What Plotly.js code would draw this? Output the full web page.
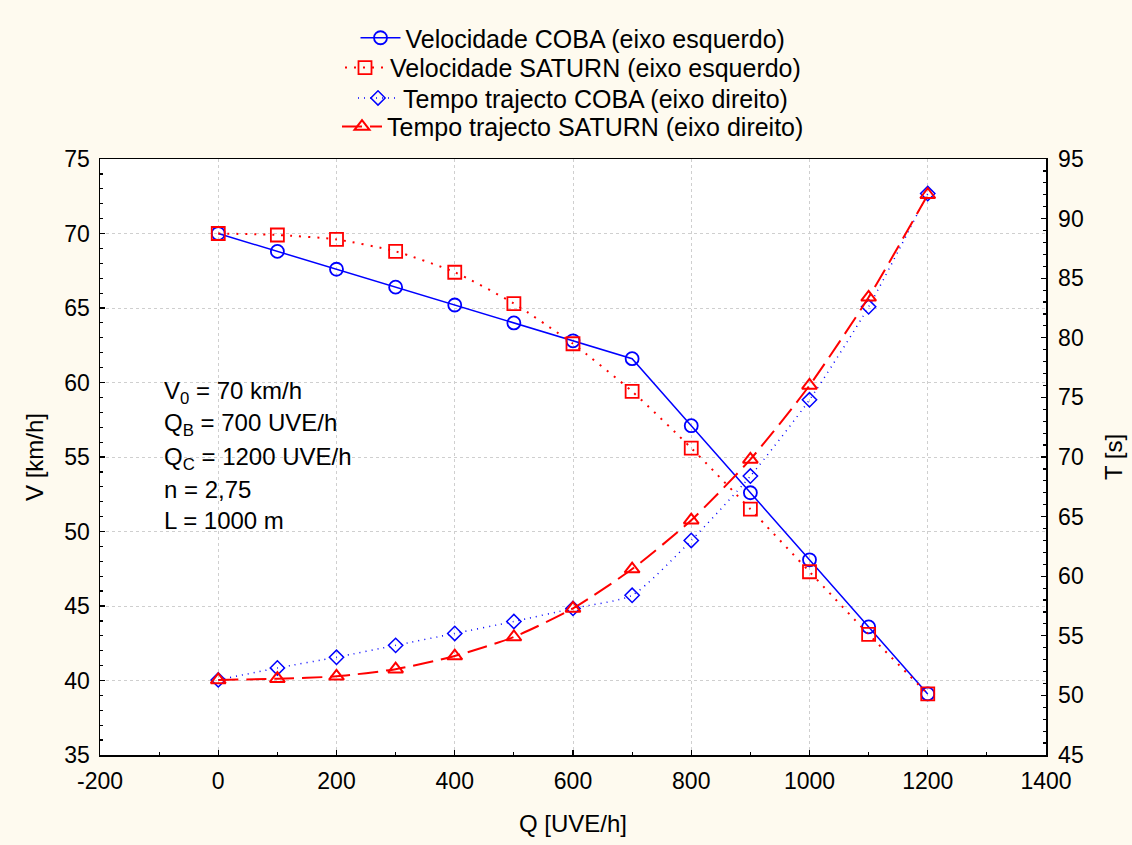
<!DOCTYPE html>
<html>
<head>
<meta charset="utf-8">
<script src="https://cdn.plot.ly/plotly-3.0.1.min.js"></script>
<style>html,body{margin:0;padding:0;background:#FEFAEF;}#chart{width:1132px;height:845px;}</style>
</head>
<body>
<div id="chart"></div>
<script>
const Q = [0, 100, 200, 300, 400, 500, 600, 700, 800, 900, 1000, 1100, 1200];
const velCOBA = [70.0, 68.8, 67.6, 66.4, 65.2, 64.0, 62.8, 61.6, 57.1, 52.6, 48.1, 43.6, 39.1];
const velSATURN = [70.0, 69.9, 69.6, 68.8, 67.4, 65.3, 62.6, 59.4, 55.6, 51.5, 47.3, 43.1, 39.1];
const tempoCOBA = [51.3, 52.3, 53.2, 54.2, 55.2, 56.2, 57.3, 58.4, 63.0, 68.4, 74.8, 82.6, 92.1];
const tempoSATURN = [51.3, 51.4, 51.6, 52.2, 53.3, 54.9, 57.3, 60.6, 64.7, 69.8, 76.0, 83.4, 92.0];
const names = [
  'Velocidade COBA (eixo esquerdo)',
  'Velocidade SATURN (eixo esquerdo)',
  'Tempo trajecto COBA (eixo direito)',
  'Tempo trajecto SATURN (eixo direito)'
];
const xTickVals = [-200, 0, 200, 400, 600, 800, 1000, 1200, 1400];
const xTickText = ['-200', '0', '200', '400', '600', '800', '1000', '1200', '1400'];
const infoLines = ['V<sub>0</sub> = 70 km/h', 'Q<sub>B</sub> = 700 UVE/h', 'Q<sub>C</sub> = 1200 UVE/h', 'n = 2,75', 'L = 1000 m'];

const FONT = 'Liberation Sans, Arial, sans-serif';
const blue = '#0000FF', red = '#FF0000';

const traces = [
  {x: Q, y: velCOBA, name: names[0], type: 'scatter', mode: 'lines+markers', yaxis: 'y', legend: 'legend',
   line: {color: blue, width: 1.5},
   marker: {symbol: 'circle-open', size: 13, color: blue, line: {width: 1.8, color: blue}}},
  {x: Q, y: velSATURN, name: names[1], type: 'scatter', mode: 'lines+markers', yaxis: 'y', legend: 'legend2',
   line: {color: red, width: 2, dash: '2px,7px', shape: 'spline', smoothing: 0.6},
   marker: {symbol: 'square-open', size: 13, color: red, line: {width: 1.8, color: red}}},
  {x: Q, y: tempoCOBA, name: names[2], type: 'scatter', mode: 'lines+markers', yaxis: 'y2', legend: 'legend3',
   line: {color: blue, width: 1.5, dash: '1px,5px', shape: 'spline', smoothing: 0.6},
   marker: {symbol: 'diamond-open', size: 11, color: blue, line: {width: 1.5, color: blue}}},
  {x: Q, y: tempoSATURN, name: names[3], type: 'scatter', mode: 'lines+markers', yaxis: 'y2', legend: 'legend4',
   line: {color: red, width: 2, dash: '20px,8px', shape: 'spline', smoothing: 0.6},
   marker: {symbol: 'triangle-up-open', size: 13, color: red, line: {width: 2, color: red}}}
];

const legendYs = [1.203, 1.153, 1.102, 1.054];
const mkLegend = (y) => ({x: 0.5, xanchor: 'center', y: y, yanchor: 'middle', bgcolor: 'rgba(0,0,0,0)',
  font: {family: FONT, size: 25, color: '#000'}, itemwidth: 40, tracegroupgap: 0});

const annY = [0.609, 0.554, 0.498, 0.445, 0.394];
const annotations = infoLines.map((t, i) => ({
  text: t, xref: 'paper', yref: 'paper', x: 0.066, y: annY[i], xanchor: 'left', yanchor: 'middle',
  showarrow: false, font: {family: FONT, size: 24, color: '#000'}
}));

const axisCommon = {
  showline: true, linecolor: '#000', linewidth: 1.5,
  ticks: 'inside', ticklen: 5, tickwidth: 1.2, tickcolor: '#000',
  tickfont: {family: FONT, size: 23, color: '#000'},
  showgrid: true, gridcolor: '#cfcfcf', griddash: 'dot', gridwidth: 1,
  zeroline: false
};

const layout = {
  width: 1132, height: 845,
  paper_bgcolor: '#FEFAEF', plot_bgcolor: '#FFFFFF',
  margin: {l: 100, r: 86, t: 159, b: 90},
  showlegend: true,
  legend: mkLegend(legendYs[0]),
  legend2: mkLegend(legendYs[1]),
  legend3: mkLegend(legendYs[2]),
  legend4: mkLegend(legendYs[3]),
  xaxis: Object.assign({}, axisCommon, {
    range: [-200, 1400], tickmode: 'array', tickvals: xTickVals, ticktext: xTickText, mirror: true,
    ticklabelstandoff: 5,
    minor: {tickmode: 'linear', tick0: 0, dtick: 100, ticks: 'inside', ticklen: 3, tickcolor: '#000', showgrid: false},
    title: {text: 'Q [UVE/h]', font: {family: FONT, size: 24, color: '#000'}, standoff: 22}
  }),
  yaxis: Object.assign({}, axisCommon, {
    range: [35, 75], dtick: 5, tick0: 35, ticklabelstandoff: 4,
    minor: {dtick: 1, ticks: 'inside', ticklen: 3, tickcolor: '#000', showgrid: false},
    title: {text: 'V [km/h]', font: {family: FONT, size: 24, color: '#000'}, standoff: 14}
  }),
  yaxis2: Object.assign({}, axisCommon, {
    overlaying: 'y', side: 'right', range: [45, 95], dtick: 5, tick0: 45, showgrid: false,
    ticklabelstandoff: 6,
    minor: {dtick: 1, ticks: 'inside', ticklen: 3, tickcolor: '#000', showgrid: false},
    title: {text: 'T [s]', font: {family: FONT, size: 24, color: '#000'}, standoff: 22}
  }),
  annotations: annotations
};

Plotly.newPlot('chart', traces, layout, {displayModeBar: false, staticPlot: true});
</script>
</body>
</html>
